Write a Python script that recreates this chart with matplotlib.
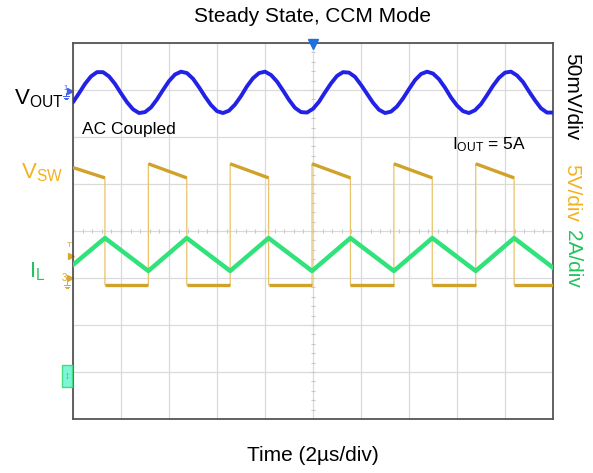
import numpy as np
import matplotlib
matplotlib.use("Agg")
import matplotlib.pyplot as plt
from matplotlib.patches import Rectangle

plt.rcParams['font.family'] = ['Liberation Sans', 'DejaVu Sans']
plt.rcParams['mathtext.fontset'] = 'custom'
plt.rcParams['mathtext.rm'] = 'Liberation Sans'

# ---------------- data (time in us, amplitude in screen divisions) -------------
t_vout = [i * 0.25 for i in range(81)]
vout = [6.74, 6.93, 7.13, 7.29, 7.38, 7.38, 7.29, 7.13, 6.93, 6.74,
        6.59, 6.51, 6.53, 6.63, 6.80, 7.00, 7.19, 7.33, 7.39, 7.36,
        7.24, 7.06, 6.86, 6.68, 6.55, 6.51, 6.56, 6.69, 6.87, 7.08,
        7.25, 7.36, 7.39, 7.32, 7.18, 6.99, 6.79, 6.62, 6.53, 6.52,
        6.60, 6.75, 6.95, 7.14, 7.30, 7.38, 7.37, 7.28, 7.11, 6.92,
        6.73, 6.58, 6.51, 6.54, 6.65, 6.82, 7.02, 7.21, 7.34, 7.39,
        7.35, 7.23, 7.05, 6.84, 6.67, 6.55, 6.51, 6.57, 6.70, 6.89,
        7.09, 7.26, 7.37, 7.39, 7.31, 7.17, 6.97, 6.78, 6.61, 6.52, 6.52]

# switch node: edge times and levels
vsw_fall = [1.33, 4.74, 8.15, 11.56, 14.97, 18.38]
vsw_rise = [3.14, 6.55, 9.96, 13.37, 16.78]
vsw_first = 5.35
vsw_high_start = 5.43
vsw_high_end = 5.13
vsw_low = 2.85

# inductor current: corner times and levels
t_il = [0, 1.33, 3.14, 4.74, 6.55, 8.15, 9.96, 11.56, 13.37, 14.97, 16.78, 18.38, 20]
il = [3.28, 3.85, 3.15, 3.85, 3.15, 3.85, 3.15, 3.85, 3.15, 3.85, 3.15, 3.85, 3.22]

T_END = 20.0

# ---------------- figure -------------------------------------------------------
W, H = 593, 473
fig = plt.figure(figsize=(W / 100, H / 100), dpi=100)

def fx(px):
    return px / W

def fy(py):
    return 1 - py / H

ax = fig.add_axes([fx(73), fy(419), 480 / W, 376 / H])
ax.set_xlim(0, T_END)
ax.set_ylim(0, 8)
ax.set_xticks(np.arange(0, 20.01, 2))
ax.set_yticks(np.arange(0, 8.01, 1))
ax.tick_params(length=0, labelbottom=False, labelleft=False)
ax.grid(True, color='#dadada', lw=0.9)
ax.set_axisbelow(True)
for s in ax.spines.values():
    s.set_color('#555555')
    s.set_linewidth(1.3)

# center cross minor ticks
mt = np.arange(0, 20.01, 0.4)
ax.vlines(mt, 3.95, 4.05, color='#c8c8c8', lw=0.8, zorder=1)
mty = np.arange(0, 8.01, 0.2)
ax.hlines(mty, 9.9, 10.1, color='#c8c8c8', lw=0.8, zorder=1)

# V_OUT
ax.plot(t_vout, vout, color='#2222e6', lw=2.8, solid_capstyle='round', zorder=4)

# V_SW step trace
ts, vs = [0.0], [vsw_first]
for i, tf in enumerate(vsw_fall):
    ts += [tf, tf]
    vs += [vsw_high_end, vsw_low]
    if i < len(vsw_rise):
        tr = vsw_rise[i]
        ts += [tr, tr]
        vs += [vsw_low, vsw_high_start]
ts.append(T_END)
vs.append(vsw_low)
ax.plot(ts, vs, color='#e9c46a', lw=0.9, zorder=3)
for i in range(len(ts) - 1):
    if ts[i + 1] > ts[i]:
        ax.plot(ts[i:i + 2], vs[i:i + 2], color='#d1a22a', lw=2.4,
                solid_capstyle='butt', zorder=3)

# I_L
ax.plot(t_il, il, color='#2fe27a', lw=3.2, zorder=5)

# ---------------- markers around the screen ------------------------------------
def dx(px):
    return (px - 73) / 48 * 2

def dy(py):
    return (419 - py) / 47

def ground(xc, ytop, color):
    # small ground symbol drawn with lines (pixel coords)
    ax.plot([dx(xc), dx(xc)], [dy(ytop), dy(ytop + 3)], color=color, lw=0.7, clip_on=False)
    for k, hw in enumerate([3, 2, 1]):
        yy = dy(ytop + 3 + 1.6 * k)
        ax.plot([dx(xc - hw), dx(xc + hw)], [yy, yy], color=color, lw=0.7, clip_on=False)

ax.plot([10], [8 - 0.03], marker='v', color='#1f6fe0', ms=7, clip_on=False, zorder=6)
ax.text(dx(66), dy(89), '1', color='#4060f0', fontsize=5.5, ha='center', va='center')
ax.plot([dx(70)], [dy(91)], marker='>', color='#4060f0', ms=4, clip_on=False)
ground(66, 93, '#4060f0')

ax.text(dx(69), dy(245), 'T', color='#d9a830', fontsize=6, ha='center', va='center')
ax.plot([dx(71)], [dy(256)], marker='>', color='#d9a830', ms=4, clip_on=False)
ax.text(dx(64), dy(278), '3', color='#d9a830', fontsize=7, ha='center', va='center')
ax.plot([dx(70)], [dy(278)], marker='>', color='#d9a830', ms=4, clip_on=False)
ground(67, 282, '#d9a830')

ax.add_patch(Rectangle((dx(62), dy(387)), dx(72) - dx(62), dy(365) - dy(387),
                       facecolor='#7ff5d8', edgecolor='#3fdc80', lw=1.0,
                       clip_on=False, zorder=6))
ax.text(dx(67), dy(376), '↕', color='#2fb86a', fontsize=7, ha='center', va='center',
        clip_on=False, zorder=7)

# ---------------- text ---------------------------------------------------------
fig.text(fx(313), fy(17), 'Steady State, CCM Mode', fontsize=15, ha='center', va='center')
fig.text(fx(313), fy(455), 'Time (2µs/div)', fontsize=15, ha='center', va='center')

fig.text(fx(14), fy(104), r'$\mathregular{V_{OUT}}$', fontsize=16, ha='left', va='baseline')
fig.text(fx(82), fy(134), 'AC Coupled', fontsize=12.5, ha='left', va='baseline')
fig.text(fx(452), fy(149), r'$\mathregular{I_{OUT}}$ = 5A', fontsize=12.5, ha='left', va='baseline')
fig.text(fx(21), fy(178), r'$\mathregular{V_{SW}}$', fontsize=16, ha='left', va='baseline',
         color='#f5b21e')
fig.text(fx(29), fy(277), r'$\mathregular{I_{L}}$', fontsize=16, ha='left', va='baseline',
         color='#22c45e')

fig.text(fx(572), fy(97), '50mV/div', fontsize=15, rotation=-90, ha='center', va='center')
fig.text(fx(572), fy(193), '5V/div', fontsize=15, rotation=-90, ha='center', va='center',
         color='#f5b21e')
fig.text(fx(572), fy(259), '2A/div', fontsize=15, rotation=-90, ha='center', va='center',
         color='#22c45e')

fig.savefig('out.png', dpi=100)
